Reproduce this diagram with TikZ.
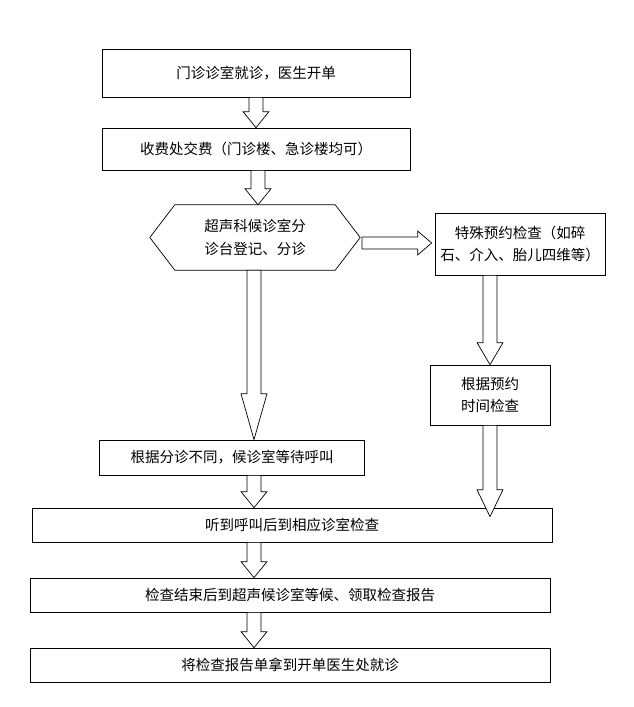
\documentclass[tikz,border=0pt]{standalone}
\usepackage{fontspec}
\setmainfont{Noto Sans CJK SC}
\usetikzlibrary{calc}
\tikzset{
  box/.style={draw=black, line width=0.7pt, rectangle, align=center, inner sep=1pt, font=\fontsize{14.5}{22}\selectfont},
  harrow/.style={draw=black, line width=0.7pt, fill=white},
}
\newcommand\vharrow[3]{%
  \draw[harrow] let \p1=(#1), \p2=(#2) in
    (\x1-7pt,\y1) -- (\x1-7pt,\y2+#3pt) -- (\x1-13pt,\y2+#3pt) -- (\x1,\y2) --
    (\x1+13pt,\y2+#3pt) -- (\x1+7pt,\y2+#3pt) -- (\x1+7pt,\y1) -- cycle;}
\begin{document}
\begin{tikzpicture}[x=1pt,y=-1pt]
\useasboundingbox (0,0) rectangle (633,707);
\node[box, minimum width=308pt, minimum height=48pt] (b1) at (256,73) {门诊诊室就诊，医生开单};
\node[box, minimum width=308pt, minimum height=42pt] (b2) at (256,149) {收费处交费（门诊楼、急诊楼均可）};
\node[inner sep=0pt, minimum width=210pt, minimum height=65pt, align=center, font=\fontsize{14.5}{23}\selectfont] (hex) at (255,237.5) {超声科候诊室分\\诊台登记、分诊};
\draw[line width=0.7pt] (hex.west) -- ($(hex.north west)+(25,0)$) -- ($(hex.north east)+(-25,0)$) -- (hex.east) -- ($(hex.south east)+(-25,0)$) -- ($(hex.south west)+(25,0)$) -- cycle;
\node[box, minimum width=170pt, minimum height=62pt] (sp) at (520,244) {特殊预约检查（如碎\\石、介入、胎儿四维等）};
\node[box, minimum width=120pt, minimum height=60pt] (ap) at (490,395) {根据预约\\时间检查};
\node[box, minimum width=265pt, minimum height=35pt] (wt) at (232,457.5) {根据分诊不同，候诊室等待呼叫};
\node[box, minimum width=520pt, minimum height=34pt] (ls) at (292,525) {听到呼叫后到相应诊室检查};
\node[box, minimum width=520pt, minimum height=34pt] (fn) at (290,595) {检查结束后到超声候诊室等候、领取检查报告};
\node[box, minimum width=520pt, minimum height=34pt] (rp) at (290,665) {将检查报告单拿到开单医生处就诊};
\vharrow{b1.south}{b2.north}{16}
\coordinate (a2s) at ($(b2.south)+(2,0)$);
\coordinate (a2e) at ($(hex.north)+(3,0)$);
\vharrow{a2s}{a2e}{16}
\coordinate (a3s) at ($(hex.south)+(-1,0)$);
\coordinate (a3e) at ($(wt.north -| a3s)$);
\vharrow{a3s}{a3e}{46}
\coordinate (a4s) at ($(sp.south -| ap.north)$);
\vharrow{a4s}{ap.north}{22}
\coordinate (a5e) at ($(ls.north -| ap.south)+(0,9)$);
\vharrow{ap.south}{a5e}{27}
\coordinate (a6s) at ($(wt.south)+(22,0)$);
\coordinate (a6e) at ($(ls.north -| a6s)$);
\vharrow{a6s}{a6e}{16}
\coordinate (a7s) at ($(ls.south -| a6s)$);
\coordinate (a7e) at ($(fn.north -| a6s)$);
\vharrow{a7s}{a7e}{16}
\coordinate (a8s) at ($(fn.south -| a6s)$);
\coordinate (a8e) at ($(rp.north -| a6s)$);
\vharrow{a8s}{a8e}{16}
\coordinate (hs) at (362,243);
\coordinate (he) at ($(sp.west |- hs)+(-3,0)$);
\draw[harrow] let \p1=(hs), \p2=(he) in
  (\x1,\y1+6pt) -- (\x2-14pt,\y1+6pt) -- (\x2-14pt,\y1+12pt) -- (\x2,\y1) --
  (\x2-14pt,\y1-12pt) -- (\x2-14pt,\y1-6pt) -- (\x1,\y1-6pt) -- cycle;
\end{tikzpicture}
\end{document}
